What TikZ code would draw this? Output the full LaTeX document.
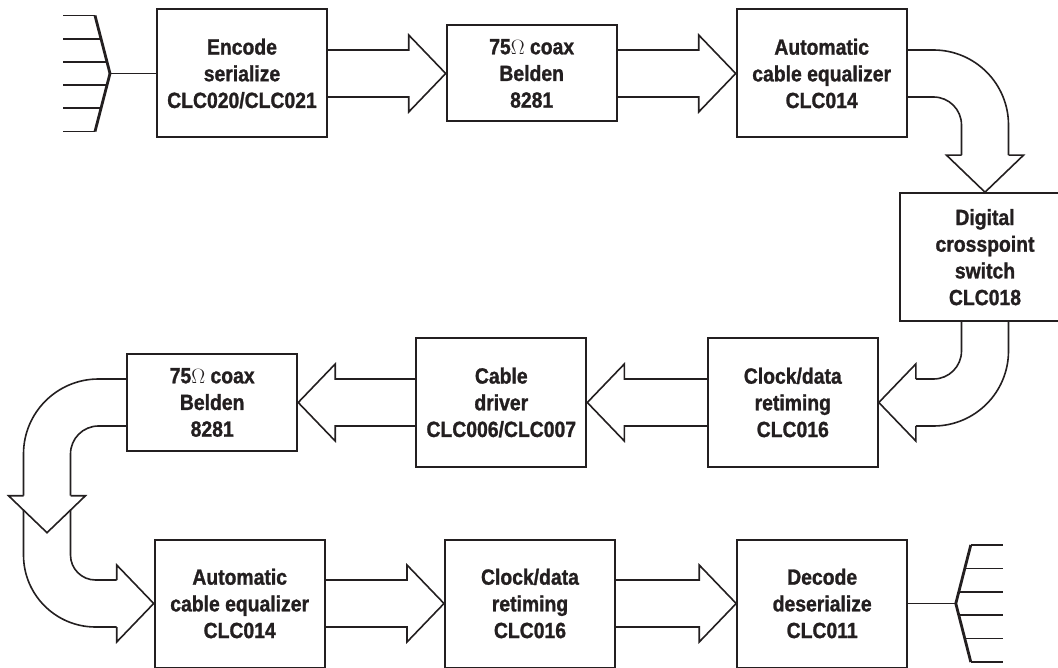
\documentclass[tikz,border=0pt]{standalone}
\usepackage{fontspec}
\setmainfont{Liberation Sans}[FakeStretch=0.88, BoldFeatures={FakeBold=1.2}]
\usepackage{tikz}
\usetikzlibrary{calc}
\definecolor{inkblk}{HTML}{231F20}

% horizontal block arrow: start anchor, tip anchor, head length (signed)
\newcommand{\fatarrow}[3]{%
  \draw[fatline] ($(#1)+(0,-23.5)$) -- ($(#2)+(#3,-23.5)$) -- ($(#2)+(#3,-38.5)$)
    -- (#2) -- ($(#2)+(#3,38.5)$) -- ($(#2)+(#3,23.5)$) -- ($(#1)+(0,23.5)$);}

\begin{document}
\begin{tikzpicture}[
  x=1pt, y=-1pt,
  blockbox/.style={draw=inkblk, line width=2pt, minimum width=170pt,
              minimum height=128pt, inner sep=0pt, align=center, text=inkblk,
              font=\fontsize{22}{26.7}\selectfont\bfseries},
  coaxbox/.style={blockbox, minimum height=96pt},
  fatline/.style={draw=inkblk, line width=1.6pt, line join=miter},
  bus/.style={draw=inkblk, line width=1.7pt},
  busbar/.style={draw=inkblk, line width=2.8pt, line join=miter}
]
\clip (0,0) rectangle (1058,668);

% top row
\node[blockbox] (enc)   at (242,73.5)   {Encode\\serialize\\CLC020/CLC021};
\node[coaxbox]  (coax1) at (531.7,73.5) {75$\Omega$ coax\\Belden\\8281};
\node[blockbox] (eq1)   at (821.7,73.5) {Automatic\\cable equalizer\\CLC014};
\node[blockbox] (xpt)   at (985,257.2)  {Digital\\crosspoint\\switch\\CLC018};

% middle row
\node[blockbox] (ret1)  at (792.8,402.5) {Clock/data\\retiming\\CLC016};
\node[blockbox] (drv)   at (501.3,402.5) {Cable\\driver\\CLC006/CLC007};
\node[coaxbox]  (coax2) at (212.2,402.5) {75$\Omega$ coax\\Belden\\8281};

% bottom row
\node[blockbox] (eq2)   at (239.7,603.5) {Automatic\\cable equalizer\\CLC014};
\node[blockbox] (ret2)  at (530,603.5)   {Clock/data\\retiming\\CLC016};
\node[blockbox] (dec)   at (822.2,603.5) {Decode\\deserialize\\CLC011};

% straight block arrows
\fatarrow{enc.east}{coax1.west}{-37}
\fatarrow{coax1.east}{eq1.west}{-37}
\fatarrow{ret1.west}{drv.east}{37}
\fatarrow{drv.west}{coax2.east}{37}
\fatarrow{eq2.east}{ret2.west}{-37}
\fatarrow{ret2.east}{dec.west}{-37}

% equalizer down to crosspoint
\draw[fatline, rounded corners=75pt] ($(eq1.east)+(0,-23.5)$) -| ($(xpt.north)+(23.5,-37)$);
\draw[fatline, rounded corners=28pt] ($(eq1.east)+(0,23.5)$) -| ($(xpt.north)+(-23.5,-37)$);
\draw[fatline] ($(xpt.north)+(-23.5,-37)$) -- ++(-15,0) -- (xpt.north)
  -- ($(xpt.north)+(38.5,-37)$) -- ++(-15,0);

% crosspoint back to retiming
\draw[fatline, rounded corners=28pt] ($(xpt.south)+(-23.5,0)$) |- ($(ret1.east)+(37,-23.5)$);
\draw[fatline, rounded corners=75pt] ($(xpt.south)+(23.5,0)$) |- ($(ret1.east)+(37,23.5)$);
\draw[fatline] ($(ret1.east)+(37,-23.5)$) -- ++(0,-15) -- (ret1.east)
  -- ($(ret1.east)+(37,38.5)$) -- ++(0,-15);

% coax down the left side
\coordinate (bend) at (47,532.7);
\draw[fatline, rounded corners=75pt] ($(coax2.west)+(0,-23.5)$) -| ($(bend)+(-23.5,-37)$);
\draw[fatline, rounded corners=28pt] ($(coax2.west)+(0,23.5)$) -| ($(bend)+(23.5,-37)$);
\draw[fatline] ($(bend)+(-23.5,-37)$) -- ++(-15,0) -- (bend)
  -- ($(bend)+(38.5,-37)$) -- ++(-15,0);

% and round into the second equalizer
\draw[fatline, rounded corners=72pt] ($(bend)+(-23.5,-22.6)$) |- ($(eq2.west)+(-37,23.5)$);
\draw[fatline, rounded corners=25pt] ($(bend)+(23.5,-22.6)$) |- ($(eq2.west)+(-37,-23.5)$);
\draw[fatline] ($(eq2.west)+(-37,-23.5)$) -- ++(0,-15) -- (eq2.west)
  -- ($(eq2.west)+(-37,38.5)$) -- ++(0,-15);

% parallel bus in
\coordinate (busin) at ($(enc.west)+(-46,0)$);
\draw[bus] (busin) -- (enc.west);
\draw[busbar] ($(busin)+(-15,-58)$) -- (busin) -- ($(busin)+(-15,58)$);
\foreach \dy in {-58,-34.8,-11.6,11.6,34.8,58}
  \draw[bus] ($(busin)+(-47,\dy)$) -- ($(busin)+({-15*abs(\dy)/58},\dy)$);

% parallel bus out
\coordinate (busout) at ($(dec.east)+(47.6,0)$);
\draw[bus] (dec.east) -- (busout);
\draw[busbar] ($(busout)+(15,-58.5)$) -- (busout) -- ($(busout)+(15,58.5)$);
\foreach \dy in {-58.5,-35.1,-11.7,11.7,35.1,58.5}
  \draw[bus] ($(busout)+({15*abs(\dy)/58.5},\dy)$) -- ($(busout)+(46.7,\dy)$);
\end{tikzpicture}
\end{document}
